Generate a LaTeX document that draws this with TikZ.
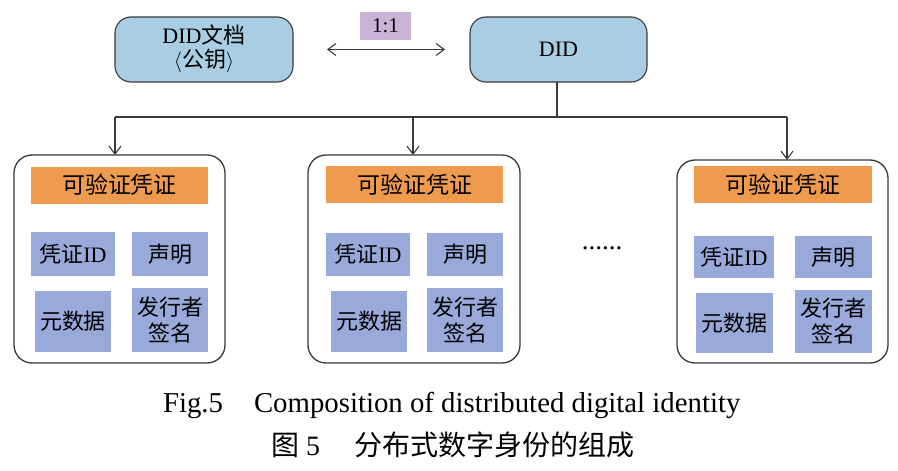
\documentclass[tikz,border=0pt]{standalone}
\usepackage{fontspec}
\setmainfont{Liberation Serif}
\newfontfamily\cjk{Noto Sans CJK SC}
\usetikzlibrary{arrows.meta}
\definecolor{lblue}{HTML}{A9CDE2}
\definecolor{orng}{HTML}{EF9B4F}
\definecolor{bpur}{HTML}{98A9DA}
\definecolor{lpur}{HTML}{C9B4D8}
\definecolor{edge}{HTML}{3A3A3A}
\begin{document}
\begin{tikzpicture}[x=1pt,y=-1pt,
  every node/.style={inner sep=0pt, outer sep=0pt, font=\fontsize{22}{26}\selectfont, align=center},
  topbox/.style={draw=edge, line width=1.1pt, fill=lblue, rounded corners=16pt},
  panel/.style={draw=edge, line width=1.3pt, fill=white, rounded corners=18pt},
  titlebar/.style={fill=orng, minimum width=177pt, minimum height=37pt, font=\fontsize{23}{26}\selectfont},
  field/.style={fill=bpur},
  ratio/.style={fill=lpur, minimum width=51pt, minimum height=28pt, font=\fontsize{21}{25}\selectfont},
  link/.style={draw=edge, line width=1.1pt},
  barb/.tip={Straight Barb[length=8pt,width=12pt,line width=1.1pt]},
  tip/.style={-barb}
]
\useasboundingbox (0,0) rectangle (898,471);
\fill[white] (0,0) rectangle (898,471);

% top boxes
\node[topbox, minimum width=178pt, minimum height=65pt] (doc) at (204,49.5) {};
\node at (204,35) {DID{\cjk 文档}};
\node at (204,61) {$\langle${\cjk 公钥}$\rangle$};
\node[topbox, minimum width=177pt, minimum height=65pt] (did) at (558.5,49.5) {DID};
\node[ratio] (r) at (385.5,26) {1:1};
\draw[link, barb-barb, shorten <=34pt, shorten >=25pt] (doc.east) -- (did.west);

% panels
\node[panel, minimum width=211pt, minimum height=208pt] (p1) at (119.5,259) {};
\node[panel, minimum width=212pt, minimum height=208pt] (p2) at (414,259) {};
\node[panel, minimum width=211pt, minimum height=203pt] (p3) at (782.5,261.5) {};

% connectors
\coordinate (hub) at (557,117);
\coordinate (j1) at (115,117);
\coordinate (j2) at (413,117);
\coordinate (j3) at (787,117);
\draw[link] (did.south -| hub) -- (hub);
\draw[link] (j1) -- (j3);
\draw[link, tip] (j1) -- (j1 |- p1.north);
\draw[link, tip] (j2) -- (j2 |- p2.north);
\draw[link, tip] (j3) -- (j3 |- p3.north);

% panel 1
\node[titlebar] (o1) at (119.5,185) {\cjk 可验证凭证};
\node[field, minimum width=84pt, minimum height=44pt] (a1) at (73,254) {{\cjk 凭证}ID};
\node[field, minimum width=76pt, minimum height=44pt] (b1) at (170,254) {\cjk 声明};
\node[field, minimum width=76pt, minimum height=61pt] (c1) at (73,321.5) {\cjk 元数据};
\node[field, minimum width=76pt, minimum height=64pt] (d1) at (170,320) {\cjk 发行者\\\cjk 签名};

% panel 2
\node[titlebar] (o2) at (414.5,184.5) {\cjk 可验证凭证};
\node[field, minimum width=84pt, minimum height=43pt] (a2) at (368,254.5) {{\cjk 凭证}ID};
\node[field, minimum width=76pt, minimum height=43pt] (b2) at (465,254.5) {\cjk 声明};
\node[field, minimum width=76pt, minimum height=61pt] (c2) at (369,321.5) {\cjk 元数据};
\node[field, minimum width=76pt, minimum height=64pt] (d2) at (465,320) {\cjk 发行者\\\cjk 签名};

% panel 3
\node[titlebar, minimum width=178pt] (o3) at (783,184.5) {\cjk 可验证凭证};
\node[field, minimum width=80pt, minimum height=42pt] (a3) at (734,257) {{\cjk 凭证}ID};
\node[field, minimum width=77pt, minimum height=42pt] (b3) at (833.5,257) {\cjk 声明};
\node[field, minimum width=77pt, minimum height=60pt] (c3) at (734.5,323) {\cjk 元数据};
\node[field, minimum width=77pt, minimum height=63pt] (d3) at (833.5,321.5) {\cjk 发行者\\\cjk 签名};

% ellipsis
\node[anchor=base, font=\fontsize{27}{30}\selectfont] (dots) at (602,249) {......};

% caption
\node[anchor=base west, font=\fontsize{28.8}{32}\selectfont] (cap1) at (163,412) {Fig.5\hspace{31pt}Composition of distributed digital identity};
\node[anchor=base west, font=\fontsize{28}{32}\selectfont] (cap2) at (271,455) {{\cjk 图} 5\hspace{34pt}{\cjk 分布式数字身份的组成}};
\end{tikzpicture}
\end{document}
